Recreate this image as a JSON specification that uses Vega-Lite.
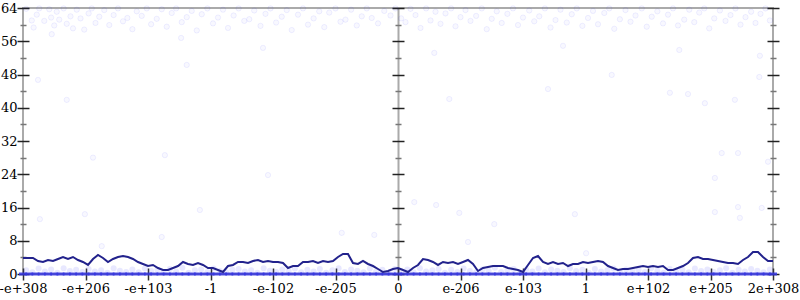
{
 "$schema": "https://vega.github.io/schema/vega-lite/v6.json",
 "width": 750,
 "height": 266,
 "autosize": {"type": "none"},
 "padding": {"left": 23, "top": 8, "right": 27, "bottom": 26},
 "config": {
  "view": {"stroke": "#aaaaaa", "strokeWidth": 2},
  "axis": {"labelFont": "DejaVu Serif", "labelFontSize": 13, "labelColor": "#000000", "title": null}
 },
 "datasets": {
  "hi": [
   {"x":-5.95,"y":63.8},{"x":-5.86,"y":61.0},{"x":-5.83,"y":59.3},{"x":-5.78,"y":62.4},{"x":-5.74,"y":63.9},{"x":-5.66,"y":60.9},{"x":-5.58,"y":63.7},{"x":-5.55,"y":61.7},{"x":-5.5,"y":59.8},{"x":-5.46,"y":63.1},
   {"x":-5.42,"y":61.2},{"x":-5.35,"y":63.9},{"x":-5.3,"y":60.2},{"x":-5.24,"y":62.0},{"x":-5.2,"y":59.1},{"x":-5.14,"y":63.6},{"x":-5.08,"y":61.5},{"x":-5.02,"y":58.8},{"x":-4.95,"y":62.7},{"x":-4.9,"y":63.9},
   {"x":-4.84,"y":60.4},{"x":-4.78,"y":61.9},{"x":-4.7,"y":63.5},{"x":-4.62,"y":59.9},{"x":-4.55,"y":62.3},{"x":-4.48,"y":63.9},{"x":-4.4,"y":60.8},{"x":-4.33,"y":61.6},{"x":-4.25,"y":58.9},{"x":-4.18,"y":63.2},
   {"x":-4.1,"y":62.1},{"x":-4.02,"y":63.9},{"x":-3.95,"y":60.1},{"x":-3.86,"y":61.4},{"x":-3.78,"y":63.7},{"x":-3.7,"y":59.5},{"x":-3.62,"y":62.8},{"x":-3.55,"y":63.9},{"x":-3.46,"y":60.6},{"x":-3.38,"y":61.8},
   {"x":-3.3,"y":63.3},{"x":-3.22,"y":58.6},{"x":-3.14,"y":62.5},{"x":-3.05,"y":63.9},{"x":-2.96,"y":60.3},{"x":-2.88,"y":61.7},{"x":-2.8,"y":63.6},{"x":-2.72,"y":59.2},{"x":-2.63,"y":62.2},{"x":-2.55,"y":63.9},
   {"x":-2.46,"y":60.9},{"x":-2.38,"y":61.3},{"x":-2.3,"y":63.4},{"x":-2.2,"y":59.7},{"x":-2.12,"y":62.6},{"x":-2.04,"y":63.9},{"x":-1.95,"y":60.5},{"x":-1.86,"y":61.9},{"x":-1.78,"y":63.5},{"x":-1.7,"y":58.7},
   {"x":-1.6,"y":62.4},{"x":-1.52,"y":63.9},{"x":-1.44,"y":60.0},{"x":-1.35,"y":61.5},{"x":-1.26,"y":63.2},{"x":-1.18,"y":59.4},{"x":-1.1,"y":62.9},{"x":-1.0,"y":63.9},{"x":-0.92,"y":60.7},{"x":-0.84,"y":61.2},
   {"x":-0.75,"y":63.6},{"x":-0.66,"y":59.8},{"x":-0.58,"y":62.0},{"x":-0.5,"y":63.9},{"x":-0.42,"y":61.6},{"x":-0.32,"y":60.3},{"x":-0.22,"y":63.3},{"x":-0.12,"y":62.2},{"x":-0.04,"y":63.9},{"x":0.05,"y":61.5},
   {"x":0.12,"y":60.6},{"x":0.2,"y":63.8},{"x":0.28,"y":62.3},{"x":0.36,"y":59.2},{"x":0.45,"y":63.9},{"x":0.52,"y":61.0},{"x":0.6,"y":63.1},{"x":0.68,"y":60.2},{"x":0.76,"y":62.7},{"x":0.85,"y":63.9},
   {"x":0.92,"y":59.6},{"x":1.0,"y":61.8},{"x":1.08,"y":63.5},{"x":1.16,"y":60.9},{"x":1.25,"y":62.1},{"x":1.34,"y":63.9},{"x":1.42,"y":58.9},{"x":1.5,"y":61.4},{"x":1.58,"y":63.2},{"x":1.66,"y":60.4},
   {"x":1.75,"y":62.6},{"x":1.84,"y":63.9},{"x":1.92,"y":59.9},{"x":2.0,"y":61.7},{"x":2.1,"y":63.4},{"x":2.18,"y":60.8},{"x":2.26,"y":62.0},{"x":2.35,"y":63.9},{"x":2.44,"y":59.3},{"x":2.52,"y":61.1},
   {"x":2.6,"y":63.6},{"x":2.7,"y":60.5},{"x":2.78,"y":62.5},{"x":2.86,"y":63.9},{"x":2.95,"y":59.7},{"x":3.04,"y":61.6},{"x":3.12,"y":63.3},{"x":3.2,"y":60.1},{"x":3.3,"y":62.8},{"x":3.38,"y":63.9},
   {"x":3.46,"y":59.0},{"x":3.55,"y":61.3},{"x":3.64,"y":63.5},{"x":3.72,"y":60.7},{"x":3.8,"y":62.2},{"x":3.9,"y":63.9},{"x":3.98,"y":59.5},{"x":4.06,"y":61.9},{"x":4.15,"y":63.2},{"x":4.24,"y":60.3},
   {"x":4.32,"y":62.4},{"x":4.4,"y":63.9},{"x":4.48,"y":59.8},{"x":4.58,"y":61.2},{"x":4.66,"y":63.6},{"x":4.74,"y":60.6},{"x":4.82,"y":62.9},{"x":4.9,"y":63.9},{"x":4.98,"y":59.1},{"x":5.06,"y":61.5},
   {"x":5.15,"y":63.4},{"x":5.24,"y":60.9},{"x":5.32,"y":62.3},{"x":5.4,"y":63.9},{"x":5.48,"y":60.0},{"x":5.56,"y":61.8},{"x":5.65,"y":63.1},{"x":5.72,"y":60.4},{"x":5.8,"y":62.6},{"x":5.88,"y":63.9},{"x":5.95,"y":61.0}
  ],
  "mid": [
   {"x":-5.76,"y":46.7},{"x":-5.3,"y":41.9},{"x":-3.38,"y":50.3},{"x":-3.47,"y":56.8},{"x":-5.54,"y":57.7},{"x":4.5,"y":53.9},{"x":3.42,"y":47.9},{"x":5.79,"y":52.5},{"x":5.78,"y":47.4},{"x":4.64,"y":43.3},
   {"x":4.35,"y":43.6},{"x":5.39,"y":41.9},{"x":0.58,"y":53.2},{"x":2.64,"y":54.9},{"x":0.82,"y":42.1},{"x":2.4,"y":44.5},{"x":4.91,"y":41.1},{"x":5.18,"y":29.1},{"x":5.44,"y":29.1},{"x":5.92,"y":27.0},
   {"x":5.07,"y":23.1},{"x":5.44,"y":16.1},{"x":5.07,"y":14.9},{"x":5.82,"y":15.9},{"x":5.47,"y":13.5},{"x":-5.73,"y":13.2},{"x":-5.01,"y":14.4},{"x":-4.74,"y":6.7},{"x":-3.78,"y":8.9},{"x":-3.17,"y":15.4},
   {"x":-0.9,"y":9.9},{"x":-0.38,"y":9.4},{"x":0.61,"y":16.6},{"x":0.98,"y":14.7},{"x":1.54,"y":12.0},{"x":1.12,"y":7.7},{"x":2.83,"y":14.4},{"x":3.01,"y":5.0},{"x":0.26,"y":17.3},{"x":-3.73,"y":28.6},
   {"x":-2.08,"y":23.8},{"x":-4.88,"y":28.0},{"x":-2.16,"y":54.4}
  ],
  "band": [
   {"x":-5.95,"y":0.9},{"x":-5.85,"y":0.4},{"x":-5.75,"y":1.3},{"x":-5.65,"y":0.6},{"x":-5.55,"y":1.1},{"x":-5.45,"y":0.3},{"x":-5.35,"y":1.4},{"x":-5.25,"y":0.7},{"x":-5.15,"y":1.0},{"x":-5.05,"y":0.5},
   {"x":-4.95,"y":1.2},{"x":-4.85,"y":0.6},{"x":-4.75,"y":0.9},{"x":-4.65,"y":0.3},{"x":-4.55,"y":1.4},{"x":-4.45,"y":0.8},{"x":-4.35,"y":0.5},{"x":-4.25,"y":1.1},{"x":-4.15,"y":0.4},{"x":-4.05,"y":1.3},
   {"x":-3.95,"y":0.7},{"x":-3.85,"y":1.0},{"x":-3.75,"y":0.4},{"x":-3.65,"y":1.2},{"x":-3.55,"y":0.6},{"x":-3.45,"y":1.5},{"x":-3.35,"y":0.3},{"x":-3.25,"y":0.9},{"x":-3.15,"y":1.1},{"x":-3.05,"y":0.5},
   {"x":-2.95,"y":1.3},{"x":-2.85,"y":0.7},{"x":-2.75,"y":0.4},{"x":-2.65,"y":1.0},{"x":-2.55,"y":1.2},{"x":-2.45,"y":0.6},{"x":-2.35,"y":0.9},{"x":-2.25,"y":0.3},{"x":-2.15,"y":1.4},{"x":-2.05,"y":0.8},
   {"x":-1.95,"y":0.5},{"x":-1.85,"y":1.1},{"x":-1.75,"y":0.7},{"x":-1.65,"y":1.3},{"x":-1.55,"y":0.4},{"x":-1.45,"y":1.0},{"x":-1.35,"y":0.6},{"x":-1.25,"y":1.2},{"x":-1.15,"y":0.3},{"x":-1.05,"y":0.9},
   {"x":-0.95,"y":1.4},{"x":-0.85,"y":0.5},{"x":-0.75,"y":1.1},{"x":-0.65,"y":0.8},{"x":-0.55,"y":0.4},{"x":-0.45,"y":1.3},{"x":-0.35,"y":0.6},{"x":-0.25,"y":1.0},{"x":-0.15,"y":0.3},{"x":-0.05,"y":1.2},
   {"x":0.05,"y":0.7},{"x":0.15,"y":1.1},{"x":0.25,"y":0.4},{"x":0.35,"y":1.4},{"x":0.45,"y":0.6},{"x":0.55,"y":0.9},{"x":0.65,"y":1.2},{"x":0.75,"y":0.3},{"x":0.85,"y":1.0},{"x":0.95,"y":0.5},
   {"x":1.05,"y":1.3},{"x":1.15,"y":0.7},{"x":1.25,"y":0.4},{"x":1.35,"y":1.1},{"x":1.45,"y":0.8},{"x":1.55,"y":1.5},{"x":1.65,"y":0.5},{"x":1.75,"y":0.9},{"x":1.85,"y":1.2},{"x":1.95,"y":0.3},
   {"x":2.05,"y":1.0},{"x":2.15,"y":0.6},{"x":2.25,"y":1.3},{"x":2.35,"y":0.4},{"x":2.45,"y":1.1},{"x":2.55,"y":0.8},{"x":2.65,"y":0.5},{"x":2.75,"y":1.4},{"x":2.85,"y":0.7},{"x":2.95,"y":1.0},
   {"x":3.05,"y":0.3},{"x":3.15,"y":1.2},{"x":3.25,"y":0.6},{"x":3.35,"y":0.9},{"x":3.45,"y":1.3},{"x":3.55,"y":0.4},{"x":3.65,"y":1.1},{"x":3.75,"y":0.7},{"x":3.85,"y":1.0},{"x":3.95,"y":0.5},
   {"x":4.05,"y":1.4},{"x":4.15,"y":0.8},{"x":4.25,"y":0.3},{"x":4.35,"y":1.2},{"x":4.45,"y":0.6},{"x":4.55,"y":1.0},{"x":4.65,"y":0.4},{"x":4.75,"y":1.3},{"x":4.85,"y":0.7},{"x":4.95,"y":1.1},
   {"x":5.05,"y":0.5},{"x":5.15,"y":0.9},{"x":5.25,"y":1.4},{"x":5.35,"y":0.3},{"x":5.45,"y":1.0},{"x":5.55,"y":0.6},{"x":5.65,"y":1.2},{"x":5.75,"y":0.8},{"x":5.85,"y":0.4},{"x":5.95,"y":1.1}
  ],
  "zero": [
   {"x":-6,"y":0},{"x":-5.9,"y":0},{"x":-5.8,"y":0},{"x":-5.7,"y":0},{"x":-5.6,"y":0},{"x":-5.5,"y":0},{"x":-5.4,"y":0},{"x":-5.3,"y":0},{"x":-5.2,"y":0},{"x":-5.1,"y":0},
   {"x":-5,"y":0},{"x":-4.9,"y":0},{"x":-4.8,"y":0},{"x":-4.7,"y":0},{"x":-4.6,"y":0},{"x":-4.5,"y":0},{"x":-4.4,"y":0},{"x":-4.3,"y":0},{"x":-4.2,"y":0},{"x":-4.1,"y":0},
   {"x":-4,"y":0},{"x":-3.9,"y":0},{"x":-3.8,"y":0},{"x":-3.7,"y":0},{"x":-3.6,"y":0},{"x":-3.5,"y":0},{"x":-3.4,"y":0},{"x":-3.3,"y":0},{"x":-3.2,"y":0},{"x":-3.1,"y":0},
   {"x":-3,"y":0},{"x":-2.9,"y":0},{"x":-2.8,"y":0},{"x":-2.7,"y":0},{"x":-2.6,"y":0},{"x":-2.5,"y":0},{"x":-2.4,"y":0},{"x":-2.3,"y":0},{"x":-2.2,"y":0},{"x":-2.1,"y":0},
   {"x":-2,"y":0},{"x":-1.9,"y":0},{"x":-1.8,"y":0},{"x":-1.7,"y":0},{"x":-1.6,"y":0},{"x":-1.5,"y":0},{"x":-1.4,"y":0},{"x":-1.3,"y":0},{"x":-1.2,"y":0},{"x":-1.1,"y":0},
   {"x":-1,"y":0},{"x":-0.9,"y":0},{"x":-0.8,"y":0},{"x":-0.7,"y":0},{"x":-0.6,"y":0},{"x":-0.5,"y":0},{"x":-0.4,"y":0},{"x":-0.3,"y":0},{"x":-0.2,"y":0},{"x":-0.1,"y":0},
   {"x":0,"y":0},{"x":0.1,"y":0},{"x":0.2,"y":0},{"x":0.3,"y":0},{"x":0.4,"y":0},{"x":0.5,"y":0},{"x":0.6,"y":0},{"x":0.7,"y":0},{"x":0.8,"y":0},{"x":0.9,"y":0},
   {"x":1,"y":0},{"x":1.1,"y":0},{"x":1.2,"y":0},{"x":1.3,"y":0},{"x":1.4,"y":0},{"x":1.5,"y":0},{"x":1.6,"y":0},{"x":1.7,"y":0},{"x":1.8,"y":0},{"x":1.9,"y":0},
   {"x":2,"y":0},{"x":2.1,"y":0},{"x":2.2,"y":0},{"x":2.3,"y":0},{"x":2.4,"y":0},{"x":2.5,"y":0},{"x":2.6,"y":0},{"x":2.7,"y":0},{"x":2.8,"y":0},{"x":2.9,"y":0},
   {"x":3,"y":0},{"x":3.1,"y":0},{"x":3.2,"y":0},{"x":3.3,"y":0},{"x":3.4,"y":0},{"x":3.5,"y":0},{"x":3.6,"y":0},{"x":3.7,"y":0},{"x":3.8,"y":0},{"x":3.9,"y":0},
   {"x":4,"y":0},{"x":4.1,"y":0},{"x":4.2,"y":0},{"x":4.3,"y":0},{"x":4.4,"y":0},{"x":4.5,"y":0},{"x":4.6,"y":0},{"x":4.7,"y":0},{"x":4.8,"y":0},{"x":4.9,"y":0},
   {"x":5,"y":0},{"x":5.1,"y":0},{"x":5.2,"y":0},{"x":5.3,"y":0},{"x":5.4,"y":0},{"x":5.5,"y":0},{"x":5.6,"y":0},{"x":5.7,"y":0},{"x":5.8,"y":0},{"x":5.9,"y":0},{"x":6,"y":0}
  ],
  "line": [
   {"x":-6,"y":3.85},{"x":-5.92,"y":3.85},{"x":-5.84,"y":3.85},{"x":-5.76,"y":3.13},{"x":-5.68,"y":2.89},{"x":-5.6,"y":3.37},{"x":-5.52,"y":3.13},{"x":-5.44,"y":3.61},{"x":-5.36,"y":4.09},{"x":-5.28,"y":3.61},
   {"x":-5.2,"y":4.09},{"x":-5.12,"y":3.37},{"x":-5.04,"y":2.89},{"x":-4.96,"y":2.17},{"x":-4.88,"y":3.61},{"x":-4.8,"y":4.57},{"x":-4.72,"y":3.85},{"x":-4.64,"y":2.89},{"x":-4.56,"y":3.61},{"x":-4.48,"y":4.09},
   {"x":-4.4,"y":4.33},{"x":-4.32,"y":4.09},{"x":-4.24,"y":3.61},{"x":-4.16,"y":2.89},{"x":-4.08,"y":2.41},{"x":-4,"y":1.92},{"x":-3.92,"y":2.17},{"x":-3.84,"y":1.44},{"x":-3.76,"y":0.96},{"x":-3.68,"y":0.96},
   {"x":-3.6,"y":1.44},{"x":-3.52,"y":1.92},{"x":-3.44,"y":2.89},{"x":-3.36,"y":2.41},{"x":-3.28,"y":2.17},{"x":-3.2,"y":2.65},{"x":-3.12,"y":2.17},{"x":-3.04,"y":1.44},{"x":-2.96,"y":1.44},{"x":-2.88,"y":0.96},
   {"x":-2.8,"y":0.48},{"x":-2.72,"y":1.92},{"x":-2.64,"y":2.17},{"x":-2.56,"y":2.89},{"x":-2.48,"y":2.89},{"x":-2.4,"y":2.65},{"x":-2.32,"y":3.13},{"x":-2.24,"y":3.37},{"x":-2.16,"y":2.89},{"x":-2.08,"y":3.13},
   {"x":-2,"y":2.89},{"x":-1.92,"y":2.89},{"x":-1.84,"y":2.65},{"x":-1.76,"y":1.44},{"x":-1.68,"y":1.92},{"x":-1.6,"y":1.92},{"x":-1.52,"y":2.89},{"x":-1.44,"y":2.89},{"x":-1.36,"y":3.13},{"x":-1.28,"y":2.65},
   {"x":-1.2,"y":3.13},{"x":-1.12,"y":2.89},{"x":-1.04,"y":3.13},{"x":-0.96,"y":4.09},{"x":-0.88,"y":4.81},{"x":-0.8,"y":4.81},{"x":-0.72,"y":2.65},{"x":-0.64,"y":2.41},{"x":-0.56,"y":3.13},{"x":-0.48,"y":2.41},
   {"x":-0.4,"y":1.92},{"x":-0.32,"y":1.2},{"x":-0.24,"y":0.48},{"x":-0.16,"y":0.72},{"x":-0.08,"y":1.2},{"x":0,"y":1.44},{"x":0.08,"y":0.96},{"x":0.16,"y":0.48},{"x":0.24,"y":1.44},{"x":0.32,"y":2.17},
   {"x":0.4,"y":3.61},{"x":0.48,"y":3.37},{"x":0.56,"y":2.89},{"x":0.64,"y":2.17},{"x":0.72,"y":2.89},{"x":0.8,"y":2.65},{"x":0.88,"y":2.89},{"x":0.96,"y":2.41},{"x":1.04,"y":2.89},{"x":1.12,"y":3.37},
   {"x":1.2,"y":2.41},{"x":1.28,"y":0.72},{"x":1.36,"y":1.44},{"x":1.44,"y":1.68},{"x":1.52,"y":1.92},{"x":1.6,"y":1.92},{"x":1.68,"y":1.92},{"x":1.76,"y":1.44},{"x":1.84,"y":1.2},{"x":1.92,"y":0.96},
   {"x":2,"y":0.48},{"x":2.08,"y":2.17},{"x":2.16,"y":3.85},{"x":2.24,"y":4.33},{"x":2.32,"y":2.89},{"x":2.4,"y":2.41},{"x":2.48,"y":2.89},{"x":2.56,"y":2.41},{"x":2.64,"y":2.65},{"x":2.72,"y":1.92},
   {"x":2.8,"y":2.41},{"x":2.88,"y":2.41},{"x":2.96,"y":2.89},{"x":3.04,"y":2.65},{"x":3.12,"y":2.89},{"x":3.2,"y":3.13},{"x":3.28,"y":2.89},{"x":3.36,"y":1.92},{"x":3.44,"y":1.44},{"x":3.52,"y":0.96},
   {"x":3.6,"y":1.2},{"x":3.68,"y":1.2},{"x":3.76,"y":1.44},{"x":3.84,"y":1.68},{"x":3.92,"y":1.92},{"x":4,"y":1.68},{"x":4.08,"y":1.92},{"x":4.16,"y":1.68},{"x":4.24,"y":1.92},{"x":4.32,"y":0.96},
   {"x":4.4,"y":0.96},{"x":4.48,"y":1.44},{"x":4.56,"y":1.92},{"x":4.64,"y":2.65},{"x":4.72,"y":3.85},{"x":4.8,"y":4.09},{"x":4.88,"y":3.61},{"x":4.96,"y":3.61},{"x":5.04,"y":3.37},{"x":5.12,"y":3.13},
   {"x":5.2,"y":2.89},{"x":5.28,"y":2.65},{"x":5.36,"y":2.65},{"x":5.44,"y":2.41},{"x":5.52,"y":3.37},{"x":5.6,"y":4.09},{"x":5.68,"y":5.29},{"x":5.76,"y":5.29},{"x":5.84,"y":4.09},{"x":5.92,"y":3.13},{"x":6,"y":3.13}
  ]
 },
 "encoding": {
  "x": {
   "field": "x", "type": "quantitative",
   "scale": {"domain": [-6, 6], "nice": false, "zero": false},
   "axis": {
    "values": [-6,-5,-4,-3,-2,-1,0,1,2,3,4,5,6],
    "offset": -6, "tickSize": 12, "tickColor": "#333333", "tickWidth": 1.5,
    "domain": false,
    "grid": true, "gridColor": "#aaaaaa", "gridWidth": 2,
    "gridOpacity": {"condition": {"test": "datum.value === 0", "value": 1}, "value": 0},
    "labelExpr": "['-e+308','-e+206','-e+103','-1','-e-102','-e-205','0','e-206','e-103','1','e+102','e+205','2e+308'][datum.value + 6]",
    "labelPadding": 2, "labelOverlap": false, "labelFlush": false, "labelBound": false
   }
  }
 },
 "resolve": {"axis": {"y": "independent"}},
 "layer": [
  {
   "data": {"name": "hi"},
   "mark": {"type": "point", "filled": true, "size": 28, "fill": "#3030ff", "stroke": "#3030ff", "strokeWidth": 1, "fillOpacity": 0.035, "strokeOpacity": 0.07},
   "encoding": {
    "y": {
     "field": "y", "type": "quantitative",
     "scale": {"domain": [0, 64], "nice": false},
     "axis": {
      "orient": "left", "values": [0,4,8,12,16,20,24,28,32,36,40,44,48,52,56,60,64],
      "offset": -6, "tickSize": 12, "tickWidth": 1.5, "domain": false, "grid": false,
      "tickColor": {"condition": {"test": "datum.value % 8 !== 0", "value": "#777777"}, "value": "#222222"},
      "tickDash": {"condition": {"test": "datum.value % 8 !== 0", "value": [0, 3, 6, 3]}, "value": [12, 0]},
      "labelExpr": "datum.value % 8 === 0 ? datum.label : ''",
      "labelPadding": 0, "labelOverlap": false, "labelFlush": false, "labelBound": false
     }
    }
   }
  },
  {
   "data": {"name": "mid"},
   "mark": {"type": "point", "filled": true, "size": 28, "fill": "#3030ff", "stroke": "#3030ff", "strokeWidth": 1, "fillOpacity": 0.035, "strokeOpacity": 0.07},
   "encoding": {
    "y": {
     "field": "y", "type": "quantitative",
     "scale": {"domain": [0, 64], "nice": false},
     "axis": {
      "orient": "left", "values": [0,4,8,12,16,20,24,28,32,36,40,44,48,52,56,60,64],
      "offset": -381, "tickSize": 12, "tickWidth": 1.5, "domain": false, "grid": false, "labels": false,
      "tickColor": {"condition": {"test": "datum.value % 8 !== 0", "value": "#777777"}, "value": "#222222"},
      "tickDash": {"condition": {"test": "datum.value % 8 !== 0", "value": [0, 3, 6, 3]}, "value": [12, 0]}
     }
    }
   }
  },
  {
   "data": {"name": "band"},
   "mark": {"type": "point", "filled": true, "size": 36, "color": "#3030ff", "opacity": 0.11},
   "encoding": {
    "y": {"field": "y", "type": "quantitative", "scale": {"domain": [0, 64], "nice": false}, "axis": null}
   }
  },
  {
   "data": {"name": "zero"},
   "mark": {"type": "tick", "orient": "horizontal", "size": 8, "thickness": 3, "color": "#3535e0", "opacity": 0.85},
   "encoding": {
    "y": {"field": "y", "type": "quantitative", "scale": {"domain": [0, 64], "nice": false}, "axis": null}
   }
  },
  {
   "data": {"name": "line"},
   "mark": {"type": "line", "color": "#22228c", "strokeWidth": 2},
   "encoding": {
    "y": {
     "field": "y", "type": "quantitative",
     "scale": {"domain": [0, 64], "nice": false},
     "axis": {
      "orient": "right", "values": [0,4,8,12,16,20,24,28,32,36,40,44,48,52,56,60,64],
      "offset": -6, "tickSize": 12, "tickWidth": 1.5, "domain": false, "grid": false, "labels": false,
      "tickColor": {"condition": {"test": "datum.value % 8 !== 0", "value": "#777777"}, "value": "#222222"},
      "tickDash": {"condition": {"test": "datum.value % 8 !== 0", "value": [0, 3, 6, 3]}, "value": [12, 0]}
     }
    }
   }
  }
 ]
}
